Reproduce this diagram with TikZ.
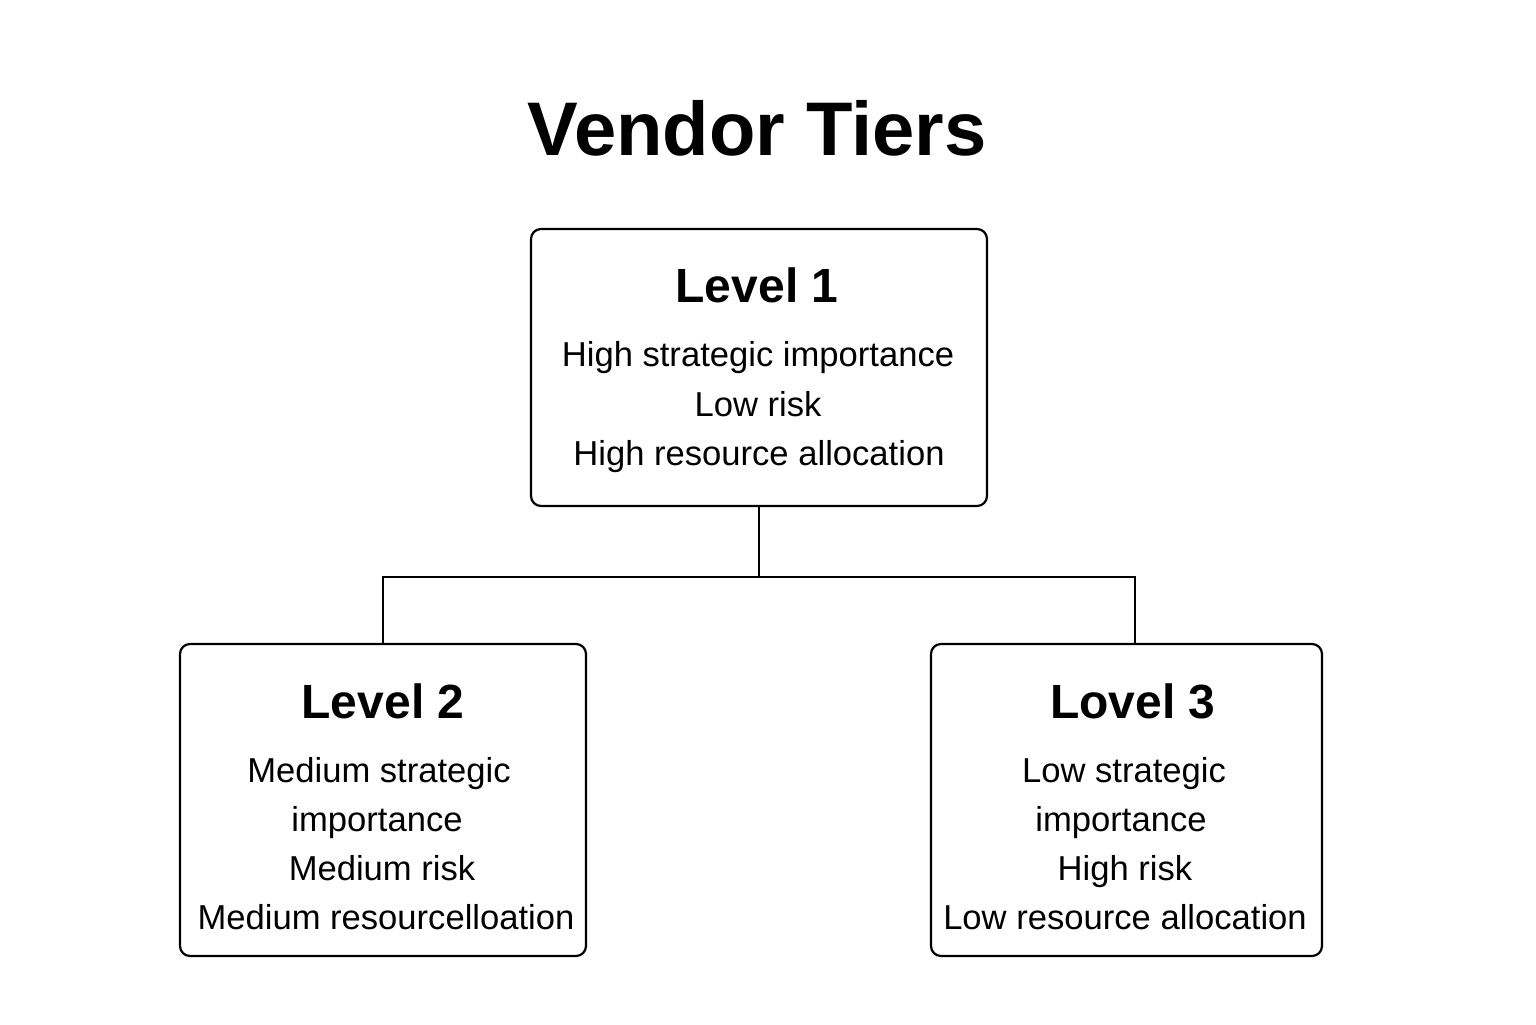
\documentclass[tikz,border=0pt]{standalone}
\usepackage{fontspec}
\setmainfont{Liberation Sans}
\begin{document}
\begin{tikzpicture}[x=0.5pt,y=-0.5pt,
  tier/.style={draw=black,line width=1.1pt,rounded corners=5pt,fill=white,inner sep=0pt},
  head/.style={anchor=base,inner sep=0pt,font=\fontsize{24}{28}\selectfont\bfseries},
  body/.style={anchor=base,inner sep=0pt,font=\fontsize{17.3}{21}\selectfont},
  link/.style={draw=black,line width=1pt}]
\useasboundingbox[fill=white] (0,0) rectangle (1536,1024);
\node[anchor=base,inner sep=0pt,font=\fontsize{38}{44}\selectfont\bfseries] (title) at (757,155) {Vendor Tiers};
% boxes
\node[tier,minimum width=228pt,minimum height=138.5pt] (l1) at (759,367.5) {};
\node[tier,minimum width=203pt,minimum height=156pt] (l2) at (383,800) {};
\node[tier,minimum width=195.5pt,minimum height=156pt] (l3) at (1126.5,800) {};
% connectors
\coordinate (j) at (759,577);
\draw[link] (l1.south) -- (j);
\draw[link] (j) -| (l2.north);
\draw[link] (j) -| ([xshift=4.25pt]l3.north);
% level 1
\node[head] (h1) at (757,302) {Level 1};
\node[body] (a1) at (758,366) {High strategic importance};
\node[body] (a2) at (758,416) {Low risk};
\node[body] (a3) at (759,465) {High resource allocation};
% level 2
\node[head] (h2) at (383,718) {Level 2};
\node[body] (b1) at (379,782) {Medium strategic};
\node[body] (b2) at (377,831) {importance};
\node[body] (b3) at (382,880) {Medium risk};
\node[body] (b4) at (386,929) {Medium resourcelloation};
% level 3
\node[head] (h3) at (1133,718) {Lovel 3};
\node[body] (c1) at (1124,782) {Low strategic};
\node[body] (c2) at (1121,831) {importance};
\node[body] (c3) at (1125,880) {High risk};
\node[body] (c4) at (1125,929) {Low resource allocation};
\end{tikzpicture}
\end{document}
